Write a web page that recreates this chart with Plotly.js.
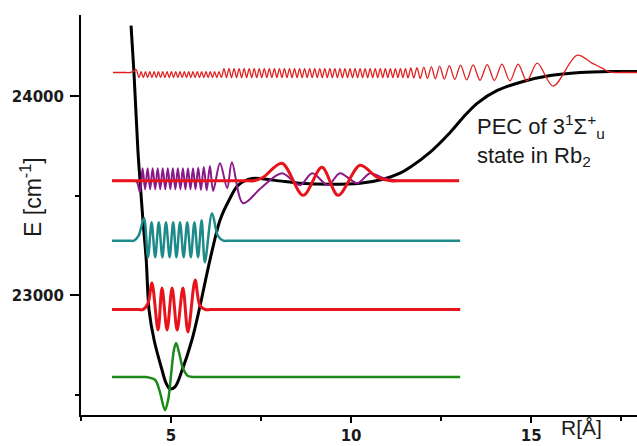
<!DOCTYPE html>
<html><head><meta charset="utf-8">
<script src="https://cdn.plot.ly/plotly-3.0.1.min.js"></script>
<style>html,body{margin:0;padding:0;background:#fff}</style>
</head><body>
<div id="chart" style="width:637px;height:446px"></div>
<script>
// Potential energy curve (R in Å, E in cm-1)
const pecR = [3.89, 3.97, 4.08, 4.14, 4.22, 4.31, 4.39, 4.53, 4.75, 4.86, 4.97, 5.11, 5.31, 5.58, 5.78, 6.08, 6.36, 6.61, 6.86, 7.25, 7.89, 8.58, 9.42, 10.25, 10.89, 11.36, 11.64, 12.19, 12.75, 13.11, 13.5, 14.06, 14.78, 15.53, 16.36, 17.19, 17.94];
const pecE = [24356, 24121, 23729, 23574, 23378, 23182, 22926, 22776, 22625, 22560, 22530, 22540, 22625, 22776, 22926, 23177, 23378, 23478, 23553, 23588, 23578, 23564, 23559, 23564, 23584, 23614, 23644, 23719, 23819, 23894, 23965, 24030, 24075, 24105, 24120, 24125, 24125];

// Green wavefunction
const greenR = [3.36, 4.0, 4.2, 4.3, 4.56, 4.69, 4.83, 4.92, 5.0, 5.08, 5.14, 5.22, 5.33, 5.47, 5.67, 5.85, 6.2, 13.03];
const greenE = [22590, 22590, 22590, 22590, 22575, 22515, 22424, 22475, 22600, 22726, 22761, 22715, 22635, 22595, 22590, 22590, 22590, 22590];

// Lower red wavefunction
const red1R = [3.36, 3.9, 4.1, 4.22, 4.36, 4.47, 4.64, 4.75, 4.89, 5.03, 5.17, 5.33, 5.47, 5.67, 5.8, 5.95, 6.1, 6.5, 13.03];
const red1E = [22929, 22929, 22929, 22929, 22960, 23062, 22826, 23037, 22826, 23037, 22826, 23037, 22816, 23077, 22950, 22929, 22929, 22929, 22929];

// Teal wavefunction
const tealR = [3.36, 3.7, 3.85, 3.97, 4.1, 4.25, 4.36, 4.46, 4.56, 4.66, 4.76, 4.86, 4.96, 5.06, 5.15, 5.25, 5.35, 5.45, 5.55, 5.65, 5.75, 5.85, 5.94, 6.14, 6.3, 6.45, 6.6, 7.0, 13.03];
const tealE = [23275, 23275, 23275, 23275, 23300, 23388, 23192, 23368, 23192, 23368, 23192, 23368, 23192, 23368, 23192, 23368, 23192, 23368, 23192, 23368, 23192, 23378, 23167, 23413, 23300, 23275, 23275, 23275, 23275];

// Purple wavefunction
const purpleR = [3.36, 3.7, 3.85, 3.95, 4.05, 4.14, 4.21, 4.28, 4.35, 4.42, 4.49, 4.56, 4.63, 4.70, 4.77, 4.84, 4.91, 4.98, 5.05, 5.12, 5.19, 5.26, 5.33, 5.40, 5.47, 5.54, 5.61, 5.68, 5.755, 5.83, 5.91, 5.99, 6.08, 6.17, 6.36, 6.56, 6.69, 7.0, 7.5, 8.08, 8.58, 8.92, 9.36, 9.69, 10.17, 10.53, 10.89, 11.36, 11.6, 12.0, 13.0];
const purpleE = [23576, 23576, 23576, 23576, 23570, 23518, 23639, 23533, 23639, 23533, 23639, 23533, 23639, 23533, 23639, 23533, 23639, 23533, 23639, 23533, 23639, 23533, 23639, 23533, 23639, 23533, 23639, 23533, 23642, 23530, 23645, 23528, 23650, 23525, 23664, 23539, 23669, 23463, 23540, 23614, 23554, 23614, 23554, 23614, 23564, 23614, 23590, 23576, 23576, 23576, 23576];

// Middle red wavefunction
const red2R = [3.36, 6.8, 7.1, 7.3, 7.56, 8.08, 8.67, 9.19, 9.64, 10.25, 10.72, 11.1, 11.4, 11.8, 13.0];
const red2E = [23576, 23576, 23576, 23576, 23594, 23664, 23503, 23644, 23503, 23654, 23594, 23576, 23576, 23576, 23576];

// Top red wavefunction (extrema), ten values per row
const red3R = [
 3.39, 3.60, 3.75, 3.86, 3.94, 4.03,
 4.11, 4.17, 4.23, 4.29, 4.35, 4.41, 4.47, 4.53, 4.59, 4.65,
 4.71, 4.77, 4.83, 4.89, 4.95, 5.01, 5.07, 5.13, 5.19, 5.25,
 5.31, 5.37, 5.43, 5.49, 5.55, 5.61, 5.67, 5.73, 5.79, 5.85,
 5.91, 5.97, 6.03, 6.09, 6.15, 6.21, 6.27, 6.33,
 6.40, 6.47, 6.54, 6.61, 6.68, 6.75, 6.82, 6.89, 6.96, 7.03,
 7.10, 7.17, 7.24, 7.31, 7.38, 7.45, 7.52, 7.59, 7.66, 7.73,
 7.80, 7.87, 7.94, 8.01, 8.08, 8.15, 8.22, 8.29, 8.36, 8.43,
 8.50, 8.57, 8.64, 8.71, 8.78, 8.85, 8.92, 8.99, 9.06, 9.13,
 9.20, 9.27, 9.34, 9.41, 9.48, 9.55, 9.62, 9.69, 9.76, 9.83,
 9.90, 9.97, 10.04, 10.11, 10.18, 10.25, 10.32, 10.39, 10.46, 10.53,
 10.60, 10.67, 10.74, 10.81, 10.88, 10.95, 11.02, 11.09, 11.16, 11.23,
 11.30, 11.37, 11.44, 11.51,
 11.58, 11.66, 11.74, 11.83, 11.92, 12.02, 12.12, 12.23, 12.34, 12.46,
 12.59, 12.73, 12.88, 13.04, 13.21, 13.39, 13.58, 13.78, 13.98, 14.19,
 14.41, 14.64, 14.88, 15.17, 15.61, 16.28, 16.69, 16.97, 17.14, 17.30,
 17.50, 17.94];
const red3E = [
 24120, 24120, 24120, 24120, 24123, 24135,
 24094, 24124, 24094, 24124, 24094, 24124, 24094, 24124, 24094, 24124,
 24094, 24124, 24094, 24124, 24094, 24124, 24094, 24124, 24094, 24124,
 24094, 24124, 24094, 24124, 24094, 24124, 24094, 24124, 24094, 24124,
 24094, 24124, 24094, 24124, 24094, 24124, 24094, 24124,
 24095, 24140, 24095, 24140, 24095, 24140, 24095, 24140, 24095, 24140,
 24095, 24140, 24095, 24140, 24095, 24140, 24095, 24140, 24095, 24140,
 24095, 24140, 24095, 24140, 24095, 24140, 24095, 24140, 24095, 24140,
 24095, 24140, 24095, 24140, 24095, 24140, 24095, 24140, 24095, 24140,
 24095, 24140, 24095, 24140, 24095, 24140, 24095, 24140, 24095, 24140,
 24095, 24140, 24095, 24140, 24095, 24140, 24095, 24140, 24095, 24140,
 24095, 24140, 24095, 24140, 24095, 24140, 24095, 24140, 24095, 24140,
 24095, 24140, 24095, 24140,
 24093, 24143, 24092, 24145, 24090, 24147, 24090, 24150, 24088, 24152,
 24087, 24155, 24085, 24157, 24083, 24158, 24081, 24160, 24080, 24162,
 24078, 24162, 24077, 24167, 24052, 24207, 24167, 24142, 24125, 24120,
 24120, 24120];

function line(x, y, color, width) {
  return {x: x, y: y, type: 'scatter', mode: 'lines', hoverinfo: 'skip',
          line: {color: color, width: width, shape: 'spline', smoothing: 0.9, simplify: false}};
}

const data = [
  line(pecR, pecE, '#000000', 3),
  line(greenR, greenE, '#1b8a1b', 2.5),
  line(red1R, red1E, '#e8141c', 3),
  line(tealR, tealE, '#1f8a8a', 2.5),
  line(purpleR, purpleE, '#8a1a8a', 2),
  line(red2R, red2E, '#e8141c', 3),
  line(red3R, red3E, '#e02020', 1.3)
];

const tickFont = {family: 'DejaVu Sans', size: 15, weight: 'bold', color: '#1a1a1a'};

const layout = {
  width: 637, height: 446,
  margin: {l: 81, r: 0, t: 15, b: 31, pad: 0},
  paper_bgcolor: '#ffffff', plot_bgcolor: '#ffffff',
  showlegend: false,
  xaxis: {
    range: [2.5, 17.94], showgrid: false, zeroline: false,
    showline: true, linecolor: '#000', linewidth: 2,
    ticks: 'outside', ticklen: 6, tickwidth: 2, tickcolor: '#000',
    tick0: 0, dtick: 5, tickformat: 'd', tickfont: tickFont, automargin: false,
    minor: {dtick: 2.5, tick0: 0, ticks: 'outside', ticklen: 4, tickwidth: 1.5, tickcolor: '#000', showgrid: false}
  },
  yaxis: {
    range: [22399, 24409], showgrid: false, zeroline: false,
    showline: true, linecolor: '#000', linewidth: 2,
    ticks: 'outside', ticklen: 9, tickwidth: 2, tickcolor: '#000',
    tick0: 0, dtick: 1000, tickformat: 'd', tickfont: tickFont, automargin: false,
    ticklabelstandoff: 3,
    minor: {dtick: 500, tick0: 0, ticks: 'outside', ticklen: 4, tickwidth: 1.5, tickcolor: '#000', showgrid: false}
  },
  annotations: [
    {xref: 'paper', yref: 'paper', x: -0.09, y: 0.545, text: 'E [cm<sup>-1</sup>]',
     textangle: -90, showarrow: false, xanchor: 'center', yanchor: 'middle',
     font: {family: 'Liberation Sans', size: 23, color: '#1a1a1a'}},
    {xref: 'paper', yref: 'paper', x: 0.901, y: -0.03, text: 'R[Å]',
     showarrow: false, xanchor: 'center', yanchor: 'middle',
     font: {family: 'Liberation Sans', size: 21, color: '#1a1a1a'}},
    {xref: 'paper', yref: 'paper', x: 0.709, y: 0.765, align: 'left',
     text: 'PEC of 3<sup>1</sup>Σ<sup>+</sup><sub>u</sub><br>state in Rb<sub>2</sub>',
     showarrow: false, xanchor: 'left', yanchor: 'top',
     font: {family: 'Liberation Sans', size: 22, color: '#1a1a1a'}}
  ]
};

Plotly.newPlot('chart', data, layout, {staticPlot: true, displayModeBar: false});
</script>
</body></html>
